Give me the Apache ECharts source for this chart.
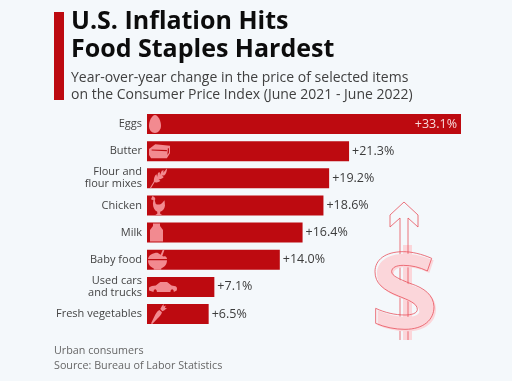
<!DOCTYPE html>
<html><head><meta charset="utf-8">
<style>html,body{margin:0;padding:0;background:#f4f8fb}#c{width:512px;height:381px}</style>
<script src="https://cdn.jsdelivr.net/npm/echarts@6/dist/echarts.min.js"></script>
</head><body><div id="c"></div>
<script>
const categories = ['Eggs','Butter','Flour and\nflour mixes','Chicken','Milk','Baby food','Used cars\nand trucks','Fresh vegetables'];
const values = [33.1,21.3,19.2,18.6,16.4,14.0,7.1,6.5];
const titleLines = ['U.S. Inflation Hits','Food Staples Hardest'];
const subtitleLines = ['Year-over-year change in the price of selected items','on the Consumer Price Index (June 2021 - June 2022)'];
const footerLines = ['Urban consumers','Source: Bureau of Labor Statistics'];

const ICON = '#f28a90', RED = '#bd0a10', PINK = '#fbd6da', LINE = '#e8505c';
const icons = [
 {p:'path://M12 0C17 0 22 10 22 18C22 25 17 30 12 30C6 30 2 25 2 18C2 10 7 0 12 0Z', s:[12,18], o:2},
 {p:'path://M0 9L12 0L40 3L40 17L34 26L4 26L0 20ZM5 10L5 12L34 13L34 11ZM36 7L35 20L38 16L38 8Z', s:[21,14], o:2},
 {p:'path://M0 40L8 27C8 20 10 14 14 12L15 18L17 9L21 8L21 14L25 5L29 4L28 9L36 0C36 6 34 12 30 15L25 15L29 18C26 22 22 23 18 22L22 26C18 29 14 30 10 28L2 41Z', s:[17,20], o:3},
 {p:'path://M3 0L7 2L9 5L8 9L10 15C15 17 20 16 24 12L28 8L29 18C28 24 24 28 19 29L19 33L23 35L9 35L13 33L13 29C7 27 4 21 4 14L5 8L0 6Z', s:[14,19], o:4},
 {p:'path://M6 0L20 0L20 5L26 13L26 36L0 36L0 13L6 5ZM5 16L12 16L12 26L5 26Z', s:[13,18], o:3},
 {p:'path://M28 0L31 1L27 10L30 11C33 9 36 12 36 15L0 15C1 9 9 5 18 5L24 8ZM0 17L36 17C36 23 32 28 25 30L25 32L11 32L11 30C4 28 0 23 0 17Z', s:[19,20], o:1},
 {p:'path://M0 8C2 6 8 5 12 5L20 0L32 0L40 5L47 6C50 7 50 10 49 12L44 14C44 9 38 9 38 14L14 14C14 9 8 9 8 14L0 12Z', s:[28,10], o:2},
 {p:'path://M0 40L10 22C13 17 16 13 20 12L26 17C25 22 20 26 16 29L3 41ZM22 10L26 4L30 0L30 5L35 3L33 8L38 8L32 13L27 15Z', s:[16,20], o:4}
];

const dollarPath = 'M275 205C245 192 215 185 190 185C135 185 105 210 105 245C105 280 130 300 175 318C205 330 232 340 232 358C232 370 215 375 195 375C165 375 135 368 107 355L107 400C135 412 165 418 195 418C250 418 282 390 282 350C280 315 255 295 210 280C180 268 155 258 155 245C155 232 170 226 190 226C215 226 240 232 262 243Z';
echarts.graphic.registerShape('dollarSign', echarts.graphic.extendPath(dollarPath, {}));

const chart = echarts.init(document.getElementById('c'), null, {renderer:'canvas'});
const F = '"Open Sans"';
chart.setOption({
  backgroundColor:'#f4f8fb',
  animation:false,
  grid:{left:147,top:110.4,width:314,height:217.2,containLabel:false},
  xAxis:{type:'value',min:0,max:33.1,show:false},
  yAxis:{type:'category',inverse:true,data:categories,
    axisLine:{show:false},axisTick:{show:false},
    axisLabel:{margin:5,color:'#444',fontFamily:F,fontSize:11,lineHeight:12,align:'right'}},
  series:[
    {type:'bar',barWidth:20,itemStyle:{color:RED},silent:true,
     label:{show:true,position:'right',distance:3,color:'#3c3c3c',fontFamily:F,fontSize:12.5,
       formatter:p=>'+'+p.value.toFixed(1)+'%'},
     data:values.map((v,i)=>i===0?{value:v,label:{position:'insideRight',color:'#f7dcdc',distance:4}}:{value:v})},
    {type:'pictorialBar',barGap:'-100%',barWidth:20,z:5,silent:true,
     symbolPosition:'start',symbolClip:false,
     data:values.map((v,i)=>({value:v,symbol:icons[i].p,symbolSize:icons[i].s,symbolOffset:[icons[i].o,0],
       symbolKeepAspect:false,itemStyle:{color:ICON}}))}
  ],
  graphic:[
    {type:'rect',shape:{x:54,y:12,width:10,height:88},style:{fill:RED}},
    {type:'text',left:71,top:8,style:{text:titleLines.join('\n'),font:'700 25px '+F,lineHeight:28,fill:'#0c0c0c'}},
    {type:'text',left:71,top:69,style:{text:subtitleLines.join('\n'),font:'400 14px '+F,lineHeight:17.500,fill:'#404040'}},
    {type:'text',left:54,top:343,style:{text:footerLines.join('\n'),font:'400 10.75px '+F,lineHeight:15.500,fill:'#666'}},
    {type:'rect',z:1,shape:{x:403,y:245,width:9,height:95},style:{fill:PINK}},
    {type:'polyline',z:2,shape:{points:[[400,340],[400,218],[390,227],[390,215],[404,202],[418,215],[418,227],[408,218],[408,340]]},
      style:{fill:'none',stroke:LINE,lineWidth:0.8}},
    {type:'dollarSign',z:3,x:342,y:192,scaleX:1/3,scaleY:1/3,style:{fill:PINK}},
    {type:'dollarSign',z:4,x:340,y:190,scaleX:1/3,scaleY:1/3,style:{fill:'none',stroke:LINE,lineWidth:2.4}}
  ]
});
</script></body></html>
